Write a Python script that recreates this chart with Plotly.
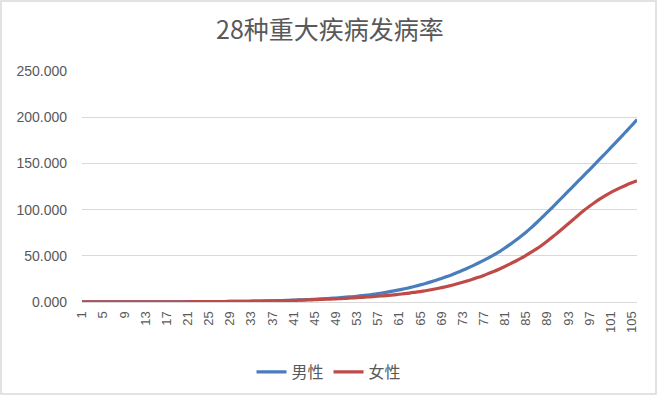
import plotly.graph_objects as go

categories = list(range(1, 107))

male = [
    0.05, 0.06, 0.07, 0.08, 0.09, 0.10, 0.11, 0.12, 0.13, 0.14,
    0.15, 0.16, 0.17, 0.18, 0.19, 0.20, 0.22, 0.24, 0.26, 0.28,
    0.30, 0.33, 0.36, 0.39, 0.42, 0.46, 0.50, 0.55, 0.60, 0.65,
    0.72, 0.80, 0.88, 0.97, 1.07, 1.18, 1.30, 1.44, 1.60, 1.78,
    1.98, 2.20, 2.44, 2.70, 2.98, 3.28, 3.60, 3.95, 4.33, 4.75,
    5.20, 5.70, 6.25, 6.85, 7.50, 8.20, 9.00, 9.90, 10.9, 12.0,
    13.1, 14.3, 15.6, 17.0, 18.5, 20.1, 21.8, 23.6, 25.5, 27.5,
    29.6, 31.9, 34.3, 36.8, 39.4, 42.2, 45.1, 48.1, 51.3, 54.6,
    58.4, 62.4, 66.6, 71.0, 75.6, 80.5, 85.8, 91.3, 96.9, 102.5,
    108.3, 114.1, 119.9, 125.7, 131.5, 137.3, 143.1, 148.9, 154.8, 160.7,
    166.7, 172.7, 178.8, 184.9, 191.0, 197.6,
]

female = [
    0.04, 0.05, 0.06, 0.07, 0.08, 0.09, 0.10, 0.11, 0.12, 0.13,
    0.14, 0.15, 0.16, 0.17, 0.18, 0.19, 0.21, 0.23, 0.25, 0.27,
    0.29, 0.31, 0.34, 0.37, 0.40, 0.44, 0.48, 0.52, 0.57, 0.62,
    0.68, 0.75, 0.82, 0.90, 0.99, 1.09, 1.20, 1.32, 1.45, 1.60,
    1.76, 1.93, 2.11, 2.30, 2.50, 2.72, 2.95, 3.20, 3.46, 3.74,
    4.03, 4.34, 4.67, 5.02, 5.40, 5.80, 6.23, 6.70, 7.20, 7.75,
    8.35, 9.00, 9.70, 10.5, 11.3, 12.2, 13.2, 14.3, 15.5, 16.8,
    18.2, 19.7, 21.3, 23.0, 24.8, 26.7, 28.8, 31.0, 33.3, 35.8,
    38.4, 41.2, 44.1, 47.2, 50.5, 53.9, 57.5, 61.5, 65.8, 70.3,
    75.0, 79.8, 84.7, 89.6, 94.5, 99.2, 103.6, 107.7, 111.5, 115.0,
    118.3, 121.3, 124.1, 126.7, 129.1, 131.3,
]

x_ticks = list(range(1, 106, 4))
y_ticks = [0, 50, 100, 150, 200, 250]

W, H = 660, 399
L, R, T, B = 82, 23, 71, 97

fig = go.Figure()
fig.add_trace(go.Scatter(x=categories, y=male, name="男性", mode="lines",
                         line=dict(color="#4A7EBB", width=3.2, shape="spline", smoothing=0.8)))
fig.add_trace(go.Scatter(x=categories, y=female, name="女性", mode="lines",
                         line=dict(color="#BE4B48", width=3.2, shape="spline", smoothing=0.8)))

pw = W - L - R
ph = H - T - B
def px_x(p):
    return (p - L) / pw
def px_y(p):
    return (H - B - p) / ph

fig.update_layout(
    width=W, height=H,
    margin=dict(l=L, r=R, t=T, b=B, autoexpand=False),
    paper_bgcolor="white", plot_bgcolor="white",
    title=dict(text="28种重大疾病发病率", x=0.5, xref="container", xanchor="center",
               y=1 - 30 / H, yanchor="middle",
               font=dict(family="Noto Sans CJK SC", size=25, color="#595959")),
    xaxis=dict(range=[1, 106], tickvals=x_ticks, ticktext=[str(v) for v in x_ticks],
               tickangle=-90, showgrid=False, zeroline=False, showline=True,
               linecolor="#D9D9D9", linewidth=1, ticks="", automargin=False,
               ticklabelstandoff=3,
               tickfont=dict(family="Liberation Sans", size=13, color="#595959")),
    yaxis=dict(range=[0, 250], tickvals=y_ticks, tickformat=".3f",
               showgrid=True, gridcolor="#D9D9D9", gridwidth=1, zeroline=False,
               showline=False, ticks="", automargin=False, ticklabelstandoff=14,
               tickfont=dict(family="Liberation Sans", size=14, color="#595959")),
    legend=dict(orientation="h", x=px_x(329), xanchor="center", y=px_y(372),
                yanchor="middle", font=dict(family="Noto Sans CJK SC", size=16, color="#595959"),
                bgcolor="rgba(0,0,0,0)", tracegroupgap=0),
    showlegend=True,
)

fig.add_shape(type="rect", xref="paper", yref="paper",
              x0=px_x(1), x1=px_x(656), y0=px_y(394), y1=px_y(1),
              line=dict(color="#D9D9D9", width=1.5), fillcolor="rgba(0,0,0,0)", layer="below")

fig.write_html("out.html", config={"displayModeBar": False},
               post_script="document.body.style.margin='0';document.body.style.overflow='hidden';")
